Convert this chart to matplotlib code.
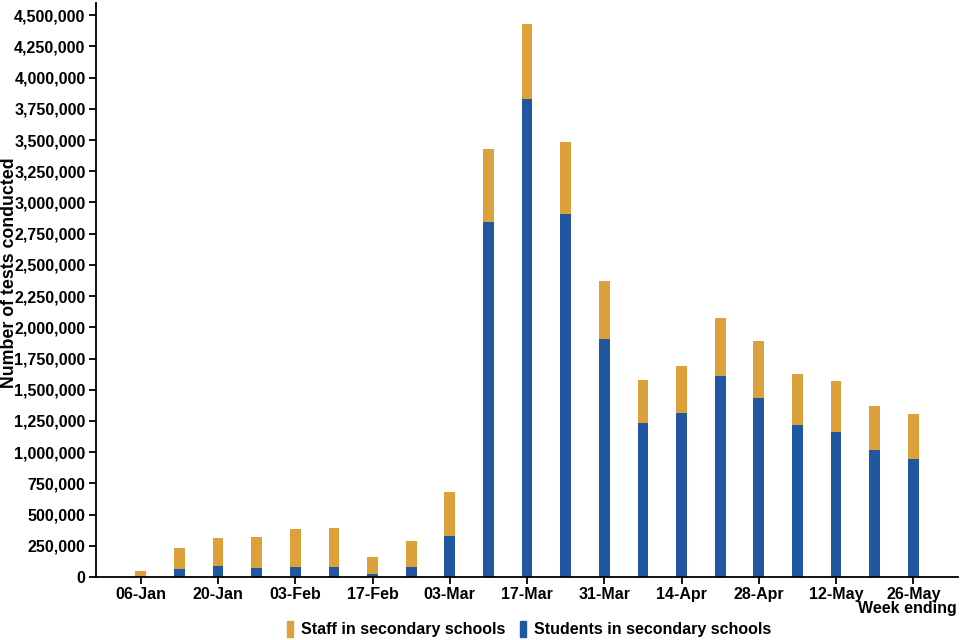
import matplotlib
matplotlib.use("Agg")
import matplotlib.pyplot as plt
from matplotlib.ticker import FuncFormatter
from matplotlib.patches import Patch

plt.rcParams['font.family'] = ['Liberation Sans', 'DejaVu Sans']
plt.rcParams['font.weight'] = 'bold'

weeks = ['06-Jan', '13-Jan', '20-Jan', '27-Jan', '03-Feb', '10-Feb', '17-Feb',
         '24-Feb', '03-Mar', '10-Mar', '17-Mar', '24-Mar', '31-Mar', '07-Apr',
         '14-Apr', '21-Apr', '28-Apr', '05-May', '12-May', '19-May', '26-May']
students = [8000, 64000, 88000, 75000, 82000, 80000, 24000,
            82000, 328000, 2845000, 3827000, 2909000, 1903000, 1230000,
            1310000, 1607000, 1436000, 1217000, 1163000, 1019000, 942000]
totals = [45000, 235000, 312000, 320000, 387000, 392000, 163000,
          288000, 678000, 3427000, 4428000, 3488000, 2367000, 1577000,
          1692000, 2076000, 1892000, 1623000, 1569000, 1366000, 1305000]
staff = [t - s for t, s in zip(totals, students)]

blue = '#2156a0'
orange = '#dca13a'

fig = plt.figure(figsize=(9.6, 6.4), dpi=100)
ax = fig.add_axes([0.1, 0.0984, 0.898, 0.8966])

x = list(range(len(weeks)))
ax.bar(x, students, width=0.28, color=blue, edgecolor='none')
ax.bar(x, staff, width=0.28, bottom=students, color=orange, edgecolor='none')

ax.set_xlim(-1.16, 21.16)
ax.set_ylim(0, 4596000)
ax.set_yticks(range(0, 4500001, 250000))
ax.yaxis.set_major_formatter(FuncFormatter(lambda v, p: f'{int(v):,}'))
ax.set_xticks(x[::2])
ax.set_xticklabels(weeks[::2])

for s in ['top', 'right']:
    ax.spines[s].set_visible(False)
for s in ['left', 'bottom']:
    ax.spines[s].set_linewidth(1.3)
ax.tick_params(axis='both', labelsize=11.5, width=1.3, length=5, colors='black')
ax.tick_params(axis='x', pad=2)
ax.tick_params(axis='y', pad=2.5)
for lab in ax.get_xticklabels() + ax.get_yticklabels():
    lab.set_fontweight('bold')

ax.set_ylabel('Number of tests conducted', fontsize=12.8, fontweight='bold')
ax.yaxis.set_label_coords(-0.0905, 0.53)
fig.text(0.997, 0.05, 'Week ending', ha='right', va='center', fontsize=11.5, fontweight='bold')

handles = [Patch(color=orange), Patch(color=blue)]
fig.legend(handles, ['Staff in secondary schools', 'Students in secondary schools'],
           loc='center', bbox_to_anchor=(0.551, 0.017), ncol=2, frameon=False,
           handlelength=0.4, handleheight=1.2, handletextpad=0.5, columnspacing=0.9,
           prop={'size': 11.5, 'weight': 'bold'})

fig.savefig('out.png', dpi=100)
